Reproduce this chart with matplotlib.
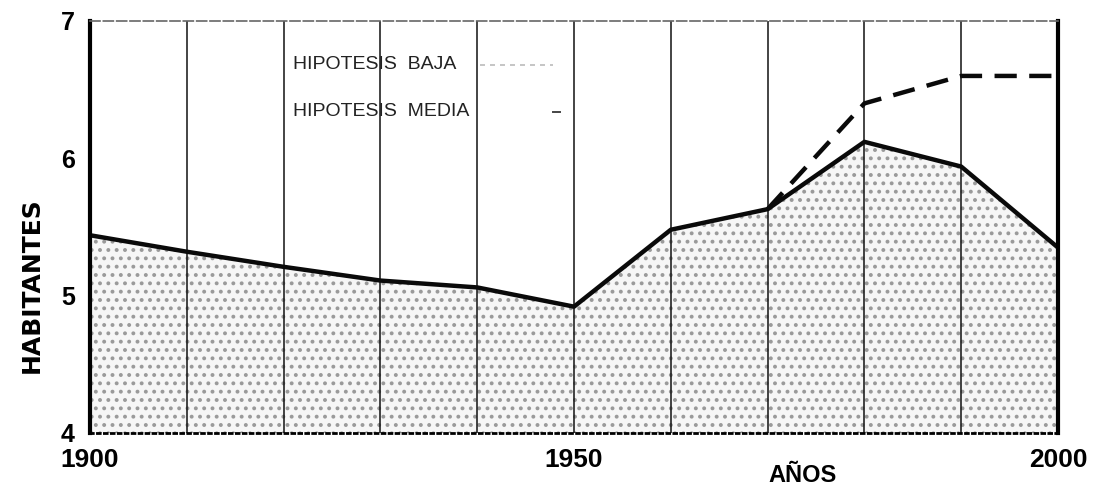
import matplotlib

matplotlib.use("Agg")
import matplotlib.pyplot as plt

years = [1900, 1910, 1920, 1930, 1940, 1950, 1960, 1970, 1980, 1990, 2000]
media = [5.44, 5.32, 5.21, 5.11, 5.06, 4.92, 5.48, 5.63, 6.12, 5.94, 5.35]
baja_years = [1970, 1980, 1990, 2000]
baja = [5.63, 6.40, 6.60, 6.60]
x_ticks = [1900, 1950, 2000]
y_ticks = [4, 5, 6, 7]
decades = [1910, 1920, 1930, 1940, 1950, 1960, 1970, 1980, 1990]

plt.rcParams["font.family"] = ["Liberation Sans", "DejaVu Sans"]
plt.rcParams["hatch.linewidth"] = 1.6

fig = plt.figure(figsize=(11.14, 5.0), dpi=100)
ax = fig.add_axes([90 / 1114, 1 - 433 / 500, (1058 - 90) / 1114, (433 - 21) / 500])

ax.fill_between(
    years, 4, media,
    facecolor="#f6f6f6", edgecolor="#9a9a9a", hatch="..", linewidth=0, zorder=1,
)
for d in decades:
    ax.axvline(d, color="#111111", linewidth=1.1, zorder=2)

ax.plot(years, media, color="#0a0a0a", linewidth=3.2, solid_joinstyle="round", zorder=4)
ax.plot(baja_years, baja, color="#0a0a0a", linewidth=3.2, dashes=(5, 2.8), zorder=4)

# legend as it appears in the scan
ax.text(1921, 6.68, "HIPOTESIS  BAJA", fontsize=14, color="#222222",
        va="center", ha="left")
ax.text(1921, 6.34, "HIPOTESIS  MEDIA", fontsize=14, color="#222222",
        va="center", ha="left")
ax.plot([1940.3, 1947.8], [6.68, 6.68], color="#bbbbbb", linewidth=1.2, dashes=(3, 3))
ax.plot([1947.8, 1948.6], [6.34, 6.34], color="#444444", linewidth=1.4)

ax.set_xlim(1900, 2000)
ax.set_ylim(4, 7)
ax.set_xticks(x_ticks)
ax.set_yticks(y_ticks)
ax.set_xticklabels([str(v) for v in x_ticks], fontsize=19, fontweight="bold")
ax.set_yticklabels([str(v) for v in y_ticks], fontsize=18, fontweight="bold")
ax.tick_params(axis="both", which="both", length=0)
ax.tick_params(axis="x", pad=11)
ax.tick_params(axis="y", pad=11)

ax.spines["left"].set_linewidth(3)
ax.spines["right"].set_linewidth(3)
ax.spines["top"].set_linewidth(1.2)
ax.spines["top"].set_color("#666666")
ax.spines["top"].set_linestyle((0, (6, 2)))
ax.spines["bottom"].set_linewidth(2)
ax.spines["bottom"].set_linestyle((0, (1, 1.5)))
for s in ax.spines.values():
    s.set_zorder(5)

fig.text(32 / 1114, 1 - 285 / 500, "HABITANTES", rotation=90, fontsize=18,
         fontweight="bold", ha="center", va="center", family="DejaVu Sans")
fig.text(803 / 1114, 1 - 475 / 500, "AÑOS", fontsize=17, fontweight="bold",
         ha="center", va="center")

fig.savefig("out.png", dpi=100, facecolor="white")
